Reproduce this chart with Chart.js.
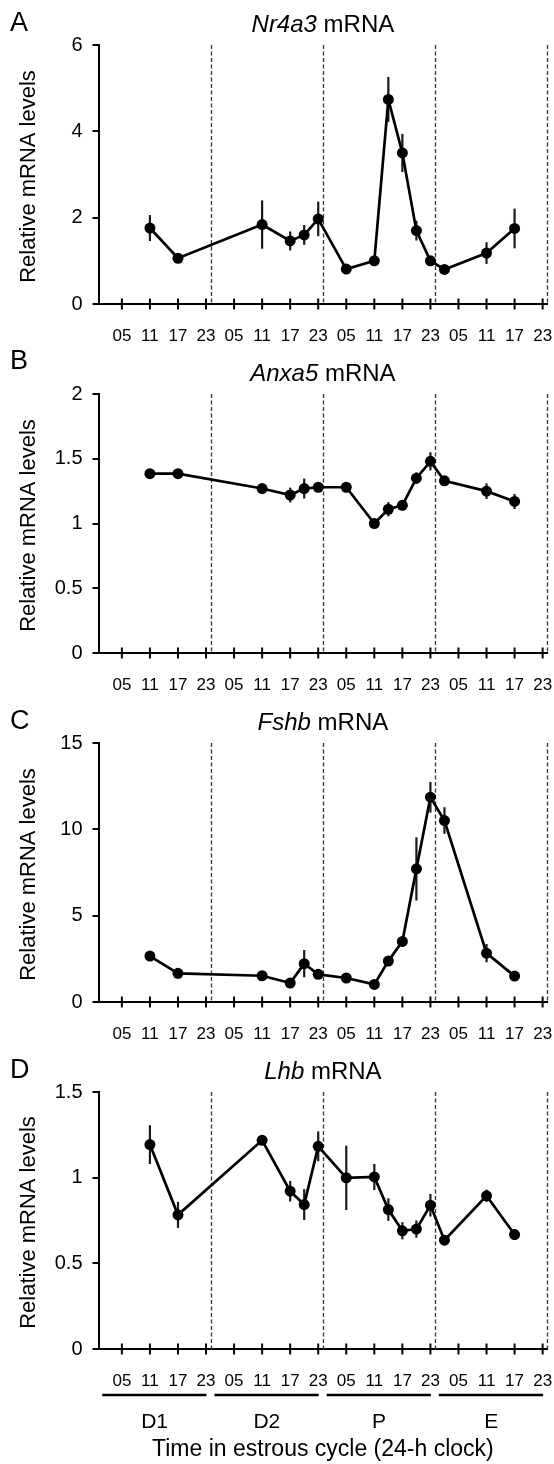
<!DOCTYPE html>
<html><head><meta charset="utf-8">
<script src="https://cdn.jsdelivr.net/npm/chart.js@4/dist/chart.umd.min.js"></script>
<style>
html,body{margin:0;padding:0;background:#fff;}
body{width:554px;height:1464px;position:relative;overflow:hidden;}
canvas{position:absolute;left:0;}
</style></head><body>
<canvas id="cA" width="554" height="349" style="top:0px"></canvas>
<canvas id="cB" width="554" height="349" style="top:349px"></canvas>
<canvas id="cC" width="554" height="349" style="top:698px"></canvas>
<canvas id="cD" width="554" height="417" style="top:1047px"></canvas>
<script>
// ---- data ----
const hours = [11, 17, 35, 41, 44, 47, 53, 59, 62, 65, 68, 71, 74, 83, 89];
const xTickHours = [5, 11, 17, 23, 29, 35, 41, 47, 53, 59, 65, 71, 77, 83, 89, 95];
const xTickLabels = ['05','11','17','23','05','11','17','23','05','11','17','23','05','11','17','23'];
const dayBoundaries = [24, 48, 72, 96];
const stageLabels = ['D1', 'D2', 'P', 'E'];
const stageStarts = [0, 24, 48, 72];

const nr4a3 =    [1.76, 1.06, 1.84, 1.46, 1.60, 1.97, 0.81, 1.00, 4.74, 3.50, 1.70, 1.00, 0.80, 1.18, 1.75];
const nr4a3Err = [0.30, 0.10, 0.56, 0.22, 0.23, 0.40, 0.03, 0.03, 0.52, 0.44, 0.23, 0.03, 0.03, 0.25, 0.46];
const anxa5 =    [1.385, 1.385, 1.27, 1.22, 1.27, 1.28, 1.28, 1.00, 1.11, 1.14, 1.35, 1.48, 1.33, 1.25, 1.17];
const anxa5Err = [0.01, 0.01, 0.037, 0.057, 0.077, 0.02, 0.03, 0.03, 0.055, 0.02, 0.045, 0.07, 0.015, 0.06, 0.058];
const fshb =     [2.66, 1.66, 1.52, 1.10, 2.22, 1.60, 1.39, 1.02, 2.37, 3.51, 7.71, 11.86, 10.51, 2.83, 1.50];
const fshbErr =  [0.10, 0.30, 0.20, 0.15, 0.79, 0.15, 0.15, 0.10, 0.20, 0.25, 1.83, 0.89, 0.77, 0.53, 0.10];
const lhb =      [1.193, 0.783, 1.218, 0.921, 0.843, 1.183, 0.999, 1.004, 0.814, 0.69, 0.70, 0.839, 0.635, 0.894, 0.668];
const lhbErr =   [0.113, 0.076, 0.02, 0.06, 0.09, 0.087, 0.188, 0.076, 0.066, 0.05, 0.05, 0.066, 0.01, 0.036, 0.032];

const FONT = 'Liberation Sans, Arial, Helvetica, sans-serif';
Chart.defaults.font.family = FONT;
Chart.defaults.color = '#000';

const overlay = {
  id: 'overlay',
  beforeDatasetsDraw(chart) {
    const o = chart.options.plugins.overlay;
    const ctx = chart.ctx, x = chart.scales.x, y = chart.scales.y, ca = chart.chartArea;
    ctx.save();
    // dashed day boundaries
    ctx.strokeStyle = '#333'; ctx.lineWidth = 1.3; ctx.setLineDash([4, 2.5]);
    dayBoundaries.forEach(d => {
      const px = Math.round(x.getPixelForValue(d)) + 0.5;
      ctx.beginPath(); ctx.moveTo(px, ca.top); ctx.lineTo(px, ca.bottom); ctx.stroke();
    });
    ctx.setLineDash([]);
    // error bars
    ctx.strokeStyle = '#1a1a1a'; ctx.lineWidth = 2.2;
    o.vals.forEach((v, i) => {
      const px = x.getPixelForValue(hours[i]);
      ctx.beginPath();
      ctx.moveTo(px, y.getPixelForValue(v + o.errs[i]));
      ctx.lineTo(px, y.getPixelForValue(v - o.errs[i]));
      ctx.stroke();
    });
    ctx.restore();
  },
  afterDraw(chart) {
    const o = chart.options.plugins.overlay;
    const ctx = chart.ctx, x = chart.scales.x, y = chart.scales.y, ca = chart.chartArea;
    ctx.save();
    // x tick marks crossing the axis
    ctx.strokeStyle = '#000'; ctx.lineWidth = 2;
    xTickHours.forEach(h => {
      const px = x.getPixelForValue(h);
      ctx.beginPath(); ctx.moveTo(px, ca.bottom - 5.5); ctx.lineTo(px, ca.bottom + 5.5); ctx.stroke();
    });
    ctx.fillStyle = '#000';
    // panel letter
    ctx.font = '27px ' + FONT; ctx.textAlign = 'left'; ctx.textBaseline = 'alphabetic';
    ctx.fillText(o.letter, 10, o.letterBase);
    // title with italic gene name
    const cx = (ca.left + ca.right) / 2;
    ctx.font = 'italic 24px ' + FONT;
    const w1 = ctx.measureText(o.gene).width;
    ctx.font = '24px ' + FONT;
    const w2 = ctx.measureText(' mRNA').width;
    const sx = cx - (w1 + w2) / 2;
    const by = ca.top - 13.5;
    ctx.font = 'italic 24px ' + FONT; ctx.fillText(o.gene, sx, by);
    ctx.font = '24px ' + FONT; ctx.fillText(' mRNA', sx + w1, by);
    // y axis title
    ctx.save();
    ctx.translate(35, (ca.top + ca.bottom) / 2 + 2);
    ctx.rotate(-Math.PI / 2);
    ctx.font = '22px ' + FONT; ctx.textAlign = 'center'; ctx.textBaseline = 'alphabetic';
    ctx.fillText('Relative mRNA levels', 0, 0);
    ctx.restore();
    // bottom stage brackets
    if (o.bottom) {
      ctx.lineWidth = 2.5; ctx.strokeStyle = '#000';
      stageStarts.forEach((s, k) => {
        const x1 = x.getPixelForValue(s + 0.8), x2 = x.getPixelForValue(s + 23.1);
        ctx.beginPath(); ctx.moveTo(x1, ca.bottom + 46); ctx.lineTo(x2, ca.bottom + 46); ctx.stroke();
        ctx.font = '21px ' + FONT; ctx.textAlign = 'center';
        ctx.fillText(stageLabels[k], x.getPixelForValue(s + 12), ca.bottom + 79);
      });
      ctx.font = '23px ' + FONT; ctx.textAlign = 'center';
      ctx.fillText('Time in estrous cycle (24-h clock)', cx, ca.bottom + 107);
    }
    ctx.restore();
  }
};

function makeChart(id, vals, errs, yMax, yStep, letter, gene, letterBase, bottom) {
  const bottomH = bottom ? 115 : 45;
  return new Chart(document.getElementById(id), {
    type: 'line',
    data: {
      datasets: [{
        data: hours.map((h, i) => ({ x: h, y: vals[i] })),
        borderColor: '#000', borderWidth: 2.7, tension: 0,
        pointRadius: 5.5, pointBackgroundColor: '#000', pointBorderColor: '#000', pointBorderWidth: 0
      }]
    },
    options: {
      responsive: false, animation: false, devicePixelRatio: 1,
      layout: { padding: { top: 45, right: 6.7, left: 0, bottom: 0 } },
      plugins: {
        legend: { display: false }, tooltip: { enabled: false },
        overlay: { vals, errs, letter, gene, letterBase, bottom }
      },
      scales: {
        x: {
          type: 'linear', min: 0, max: 96,
          afterBuildTicks: s => { s.ticks = xTickHours.map(v => ({ value: v })); },
          ticks: { autoSkip: false, maxRotation: 0, padding: 14, font: { size: 17 }, color: '#000',
                   callback: (v, i) => xTickLabels[i] },
          grid: { display: false },
          border: { display: true, color: '#000', width: 2 },
          afterFit: s => { s.height = bottomH; s.paddingLeft = 0; s.paddingRight = 0; }
        },
        y: {
          min: 0, max: yMax,
          ticks: { stepSize: yStep, font: { size: 20 }, color: '#000', padding: 10,
                   callback: v => String(Math.round(v * 100) / 100) },
          grid: { display: true, drawOnChartArea: false, drawTicks: true, tickLength: 6, color: '#000', lineWidth: 2 },
          border: { display: true, color: '#000', width: 2 },
          afterFit: s => { s.width = 98.5; s.paddingTop = 0; s.paddingBottom = 0; }
        }
      }
    },
    plugins: [overlay]
  });
}

makeChart('cA', nr4a3, nr4a3Err, 6, 2, 'A', 'Nr4a3', 30.7, false);
makeChart('cB', anxa5, anxa5Err, 2, 0.5, 'B', 'Anxa5', 20.3, false);
makeChart('cC', fshb, fshbErr, 15, 5, 'C', 'Fshb', 31.3, false);
makeChart('cD', lhb, lhbErr, 1.5, 0.5, 'D', 'Lhb', 31.3, true);
</script>
</body></html>
